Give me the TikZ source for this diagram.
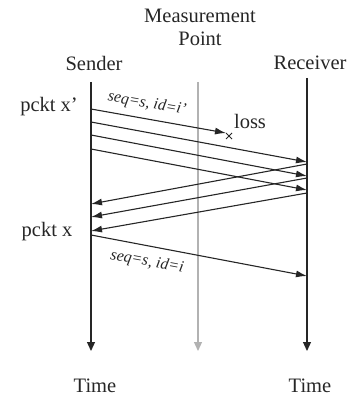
\documentclass[tikz,border=0pt]{standalone}
\usepackage{fontspec}
\setmainfont{Liberation Serif}
\usetikzlibrary{arrows.meta,calc}
\begin{document}
\begin{tikzpicture}[x=1pt,y=-1pt,
  lbl/.style={font=\fontsize{20.5}{22}\selectfont, inner sep=0pt, text=black!85},
  seqlbl/.style={font=\fontsize{16}{18}\selectfont\itshape, inner sep=0pt, text=black!85},
  life/.style={line width=1.2pt, draw=black!85, -{Triangle[length=9pt,width=8pt]}},
  glife/.style={line width=1.2pt, draw=black!30, -{Triangle[length=9pt,width=8pt]}},
  msg/.style={line width=1.1pt, draw=black!85, -{Latex[length=11pt,width=7pt]}}]
\useasboundingbox (0,0) rectangle (350,398);
% lifelines
\coordinate (stop) at (91,82);   \coordinate (sbot) at (91,351);
\coordinate (mtop) at (198,82);  \coordinate (mbot) at (198,351);
\coordinate (rtop) at (307,78);  \coordinate (rbot) at (307,351);
\draw[life] (stop) -- (sbot);
\draw[glife] (mtop) -- (mbot);
\draw[life] (rtop) -- (rbot);
% labels
\node[lbl] (snd) at (94,63) {Sender};
\node[lbl] (mp1) at (200,16) {Measurement};
\node[lbl] (mp2) at (200,39) {Point};
\node[lbl] (rcv) at (310,63) {Receiver};
\node[lbl] (t1) at (95,386) {Time};
\node[lbl] (t2) at (310,386) {Time};
\node[lbl] (px1) at (49,107) {pckt x'};
\node[lbl] (px) at (47,232) {pckt x};
\node[lbl] (loss) at (250,121) {loss};
% forward messages
\coordinate (a1) at (91,109); \coordinate (b1) at (226,133);
\coordinate (a2) at (91,122); \coordinate (b2) at (307,162);
\coordinate (a3) at (91,135); \coordinate (b3) at (307,176);
\coordinate (a4) at (91,149); \coordinate (b4) at (307,190);
\draw[msg] (a1) -- (b1);
\draw[msg] (a2) -- (b2);
\draw[msg] (a3) -- (b3);
\draw[msg] (a4) -- (b4);
% loss cross
\coordinate (x) at (229,136);
\draw[line width=1pt, black!85] ($(x)+(-3,-3)$) -- ($(x)+(3,3)$) ($(x)+(-3,3)$) -- ($(x)+(3,-3)$);
% return messages
\coordinate (c1) at (307,164); \coordinate (d1) at (91,204);
\coordinate (c2) at (307,178); \coordinate (d2) at (91,217);
\coordinate (c3) at (307,193); \coordinate (d3) at (91,231);
\draw[msg] (c1) -- (d1);
\draw[msg] (c2) -- (d2);
\draw[msg] (c3) -- (d3);
% retransmission
\coordinate (e) at (91,235); \coordinate (f) at (307,276);
\draw[msg] (e) -- (f);
\node[seqlbl, rotate=-10] (s1) at (147,104) {seq=s, id=i'};
\node[seqlbl, rotate=-10.5] (s2) at (147,262) {seq=s, id=i};
\end{tikzpicture}
\end{document}
